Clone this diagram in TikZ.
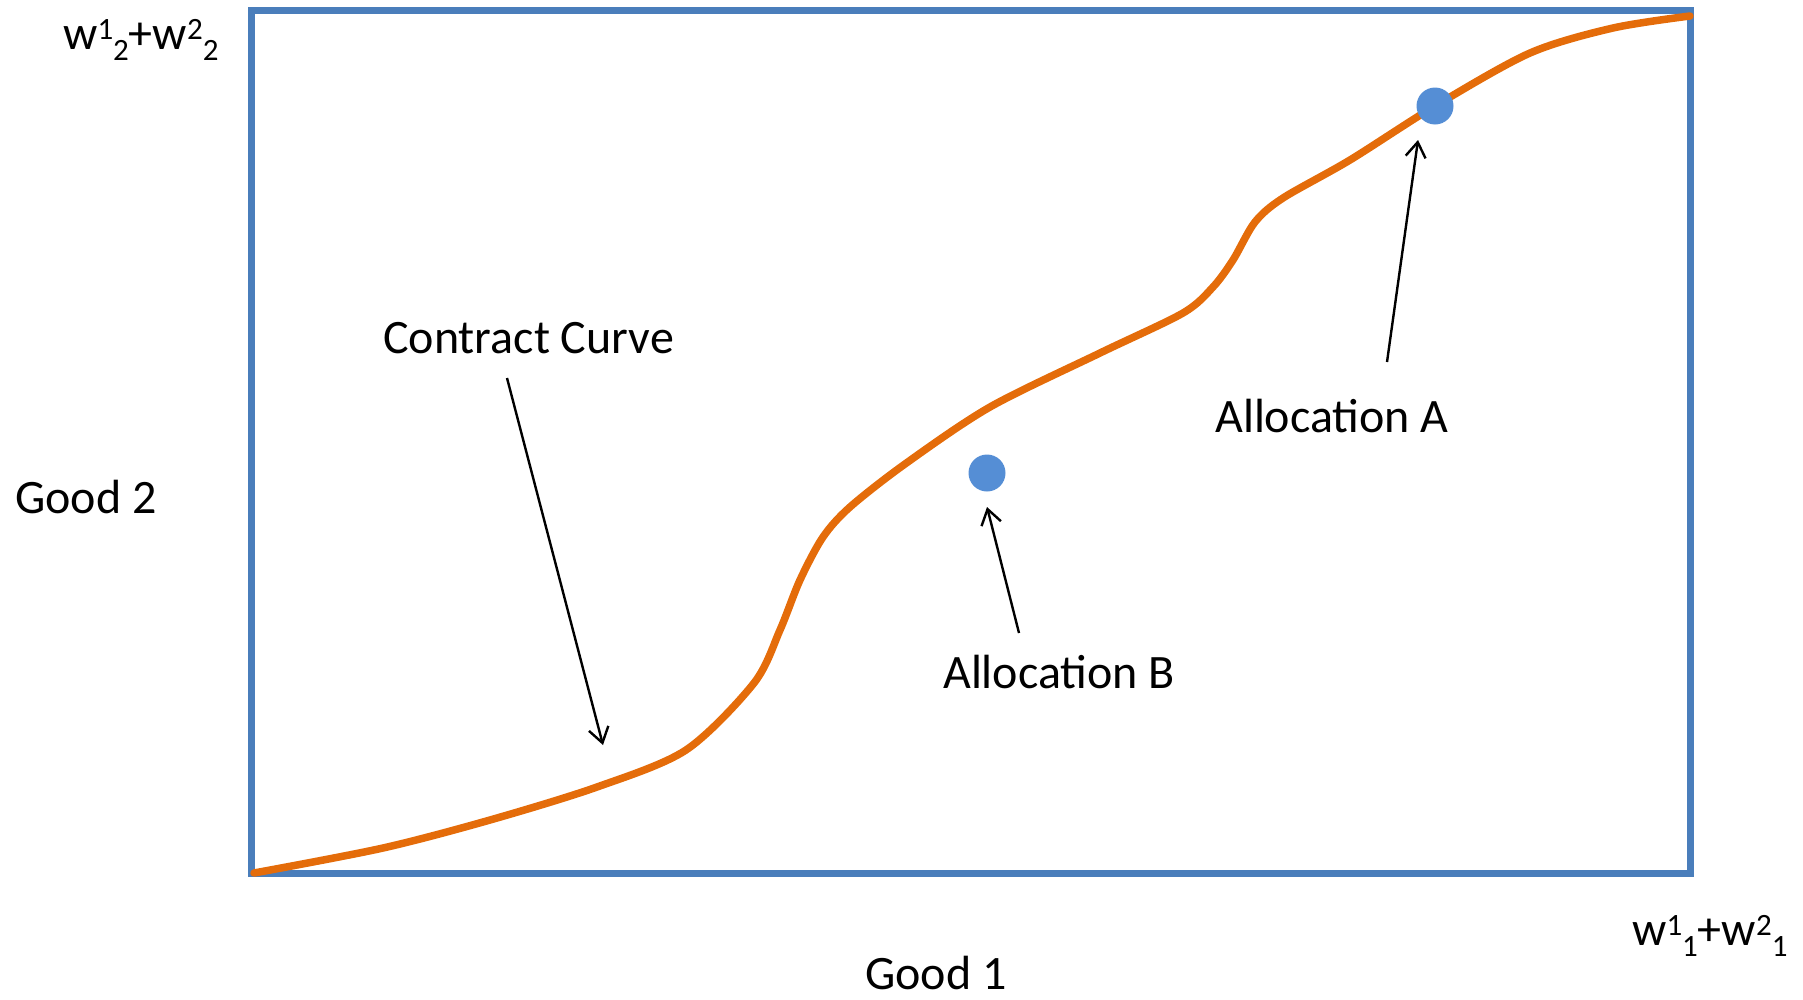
\documentclass[tikz,border=0pt]{standalone}
\usepackage{fontspec}
\setmainfont{Carlito}
\usetikzlibrary{arrows.meta}
\definecolor{boxblue}{HTML}{4A7EBB}
\definecolor{dotblue}{HTML}{558ED5}
\definecolor{curveorange}{HTML}{E46C0A}
\newcommand{\supx}[1]{\raisebox{10pt}{\fontsize{31}{31}\selectfont #1}}
\newcommand{\subx}[1]{\raisebox{-11pt}{\fontsize{31}{31}\selectfont #1}}
\begin{document}
\begin{tikzpicture}[x=1pt,y=-1pt,
  lbl/.style={anchor=base west,inner sep=0pt,font=\fontsize{48}{56}\selectfont},
  boxline/.style={draw=boxblue,line width=7pt},
  ccurve/.style={draw=curveorange,line width=7.5pt},
  dotnode/.style={circle,fill=dotblue,draw=none,minimum size=37pt,inner sep=0pt},
  ptr/.style={draw=black,line width=2.4pt,-{Straight Barb[length=15pt,width=20pt,line width=2.4pt]}}]
\useasboundingbox (0,0) rectangle (1803,999);
% box
\draw[boxline] (251,10) rectangle (1690,873);
% contract curve
\draw[ccurve,line cap=round] plot[smooth,tension=0.5] coordinates {
 (254,873) (383,848) (490,820) (597,787) (686,750) (754,683) (780,630)
 (800,580) (823,537) (850,507) (905,464) (990,407) (1100,353) (1183,313)
 (1213,287) (1233,260) (1255,222) (1283,198) (1350,160)
 (1435,106) (1530,53) (1613,28) (1690,16)};
% dots
\node[dotnode] (dA) at (1435,106) {};
\node[dotnode] (dB) at (987,473) {};
% labels
\node[lbl] (top) at (63,49) {w\supx{1}\subx{2}+w\supx{2}\subx{2}};
\node[lbl] (right) at (1632,945) {w\supx{1}\subx{1}+w\supx{2}\subx{1}};
\node[lbl] (g2) at (15,513) {Good 2};
\node[lbl] (g1) at (865,989) {Good 1};
\node[lbl] (cc) at (383,353) {Contract Curve};
\node[lbl] (la) at (1215,432) {Allocation A};
\node[lbl] (lb) at (943,688) {Allocation B};
% arrows
\coordinate (ccS) at (507,378);
\coordinate (ccE) at (603,745);
\coordinate (aS) at (1387,362);
\coordinate (aE) at (1418,140);
\coordinate (bS) at (1019,633);
\coordinate (bE) at (987,507);
\draw[ptr] (ccS) -- (ccE);
\draw[ptr] (aS) -- (aE);
\draw[ptr] (bS) -- (bE);
\end{tikzpicture}
\end{document}
